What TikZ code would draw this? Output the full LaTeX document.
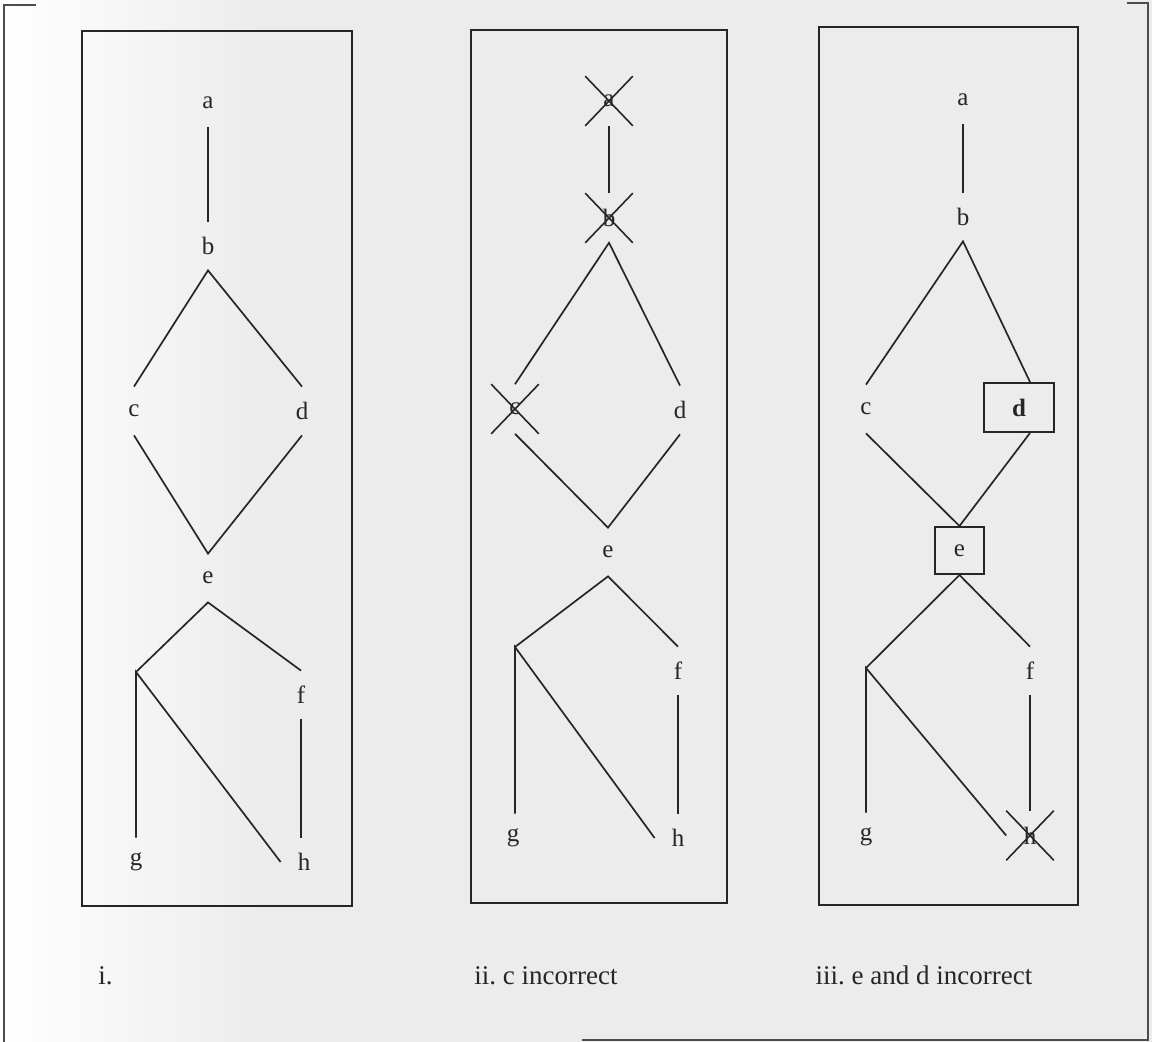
\documentclass[tikz,border=0pt]{standalone}
\usepackage{fontspec}
\setmainfont{Liberation Serif}
\usetikzlibrary{shapes.misc,calc}
\definecolor{ink}{HTML}{262626}
\definecolor{paper}{HTML}{ECECEC}
\frenchspacing
\begin{document}
\begin{tikzpicture}[x=0.5pt,y=-0.5pt,
  lt/.style={inner sep=0pt,minimum width=23pt,minimum height=24pt,text=ink,
             font=\fontsize{12.5}{14}\selectfont},
  xed/.style={lt,cross out,draw=ink,line width=0.8pt},
  boxed/.style={lt,draw=ink,line width=1pt},
  edge/.style={draw=ink,line width=0.85pt},
  frame/.style={draw=ink,line width=1pt},
  outer/.style={draw=black!70,line width=1.1pt},
  captext/.style={text=ink,font=\fontsize{13.5}{16}\selectfont,inner sep=0pt}]
\useasboundingbox (0,0) rectangle (1152,1042);
\fill[paper] (0,0) rectangle (1152,1042);
\shade[left color=white,right color=paper] (0,0) rectangle (260,1042);
% outer frame
\draw[outer] (36,5) -- (4,5) -- (4,1042);
\draw[outer] (1127,3) -- (1148,3) -- (1148,1040) -- (582,1040);
% panel frames
\draw[frame] (82,31) rectangle (352,906);
\draw[frame] (471,30) rectangle (727,903);
\draw[frame] (819,27) rectangle (1078,905);

% ---------- panel i ----------
\node[lt] (a1) at (208,103) {a};
\node[lt] (b1) at (208,246) {b};
\node[lt] (c1) at (134,411) {c};
\node[lt] (d1) at (302,411) {d};
\node[lt] (e1) at (208,578) {e};
\node[lt] (f1) at (301,695) {f};
\node[lt] (g1) at (136,862) {g};
\node[lt] (h1) at (304,862) {h};
\coordinate (j1) at (136,672);
\path[edge] (a1.south) -- (b1.north);
\path[edge] (c1.north) -- (b1.south) -- (d1.north);
\path[edge] (c1.south) -- (e1.north) -- (d1.south);
\path[edge] (j1) -- (e1.south) -- (f1.north);
\path[edge] (g1.north) -- (j1) -- (h1.west);
\path[edge] (f1.south) -- (h1.north -| f1);

% ---------- panel ii ----------
\node[xed] (a2) at (609,101) {a};
\node[xed] (b2) at (609,218) {b};
\node[xed] (c2) at (515,409) {c};
\node[lt] (d2) at (680,410) {d};
\node[lt] (e2) at (608,552) {e};
\node[lt] (f2) at (678,671) {f};
\node[lt] (g2) at (513,838) {g};
\node[lt] (h2) at (678,838) {h};
\coordinate (j2) at (515,647);
\path[edge] (a2.south) -- (b2.north);
\path[edge] (c2.north) -- (b2.south) -- (d2.north);
\path[edge] (c2.south) -- (e2.north) -- (d2.south);
\path[edge] (j2) -- (e2.south) -- (f2.north);
\path[edge] (g2.north -| j2) -- (j2) -- (h2.west);
\path[edge] (f2.south) -- (h2.north);

% ---------- panel iii ----------
\node[lt] (a3) at (963,100) {a};
\node[lt] (b3) at (963,217) {b};
\node[lt] (c3) at (866,409) {c};
\node[boxed,minimum width=35pt,minimum height=24.5pt,font=\fontsize{12.5}{14}\selectfont\bfseries] (d3) at (1019,407.5) {d};
\node[boxed,minimum width=24.5pt,minimum height=23.5pt] (e3) at (959.5,550.5) {e};
\node[lt] (f3) at (1030,671) {f};
\node[lt] (g3) at (866,837) {g};
\node[xed] (h3) at (1030,835.5) {h};
\coordinate (j3) at (866,668);
\path[edge] (a3.south) -- (b3.north);
\path[edge] (c3.north) -- (b3.south) -- (d3.north -| f3);
\path[edge] (c3.south) -- (e3.north) -- (d3.south -| f3);
\path[edge] (j3) -- (e3.south) -- (f3.north);
\path[edge] (g3.north) -- (j3) -- (h3.west);
\path[edge] (f3.south) -- (h3.north);

% captions
\node[captext,anchor=base west] (cap1) at (98,984) {i.};
\node[captext,anchor=base] (cap2) at (546,984) {ii. c incorrect};
\node[captext,anchor=base] (cap3) at (924,984) {iii. e and d incorrect};
\end{tikzpicture}
\end{document}
